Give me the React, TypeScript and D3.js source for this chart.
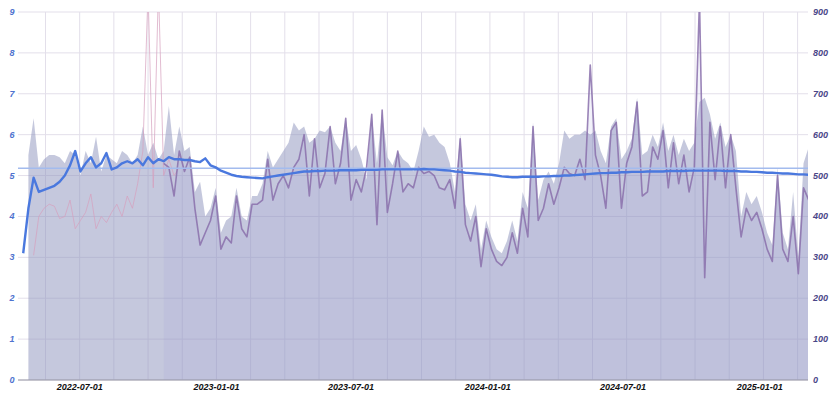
import * as d3 from 'd3';

// weekly observation dates
const dates = [
  '2022-04-16','2022-04-23','2022-04-30','2022-05-07','2022-05-14','2022-05-21','2022-05-28','2022-06-04','2022-06-11','2022-06-18',
  '2022-06-25','2022-07-02','2022-07-09','2022-07-16','2022-07-23','2022-07-30','2022-08-06','2022-08-13','2022-08-20','2022-08-27',
  '2022-09-03','2022-09-10','2022-09-17','2022-09-24','2022-10-01','2022-10-08','2022-10-15','2022-10-22','2022-10-29','2022-11-05',
  '2022-11-12','2022-11-19','2022-11-26','2022-12-03','2022-12-10','2022-12-17','2022-12-24','2022-12-31','2023-01-07','2023-01-14',
  '2023-01-21','2023-01-28','2023-02-04','2023-02-11','2023-02-18','2023-02-25','2023-03-04','2023-03-11','2023-03-18','2023-03-25',
  '2023-04-01','2023-04-08','2023-04-15','2023-04-22','2023-04-29','2023-05-06','2023-05-13','2023-05-20','2023-05-27','2023-06-03',
  '2023-06-10','2023-06-17','2023-06-24','2023-07-01','2023-07-08','2023-07-15','2023-07-22','2023-07-29','2023-08-05','2023-08-12',
  '2023-08-19','2023-08-26','2023-09-02','2023-09-09','2023-09-16','2023-09-23','2023-09-30','2023-10-07','2023-10-14','2023-10-21',
  '2023-10-28','2023-11-04','2023-11-11','2023-11-18','2023-11-25','2023-12-02','2023-12-09','2023-12-16','2023-12-23','2023-12-30',
  '2024-01-06','2024-01-13','2024-01-20','2024-01-27','2024-02-03','2024-02-10','2024-02-17','2024-02-24','2024-03-02','2024-03-09',
  '2024-03-16','2024-03-23','2024-03-30','2024-04-06','2024-04-13','2024-04-20','2024-04-27','2024-05-04','2024-05-11','2024-05-18',
  '2024-05-25','2024-06-01','2024-06-08','2024-06-15','2024-06-22','2024-06-29','2024-07-06','2024-07-13','2024-07-20','2024-07-27',
  '2024-08-03','2024-08-10','2024-08-17','2024-08-24','2024-08-31','2024-09-07','2024-09-14','2024-09-21','2024-09-28','2024-10-05',
  '2024-10-12','2024-10-19','2024-10-26','2024-11-02','2024-11-09','2024-11-16','2024-11-23','2024-11-30','2024-12-07','2024-12-14',
  '2024-12-21','2024-12-28','2025-01-04','2025-01-11','2025-01-18','2025-01-25','2025-02-01','2025-02-08','2025-02-15','2025-02-22',
  '2025-03-01','2025-03-08',
];

// upper band (grey area, left axis)
const upperBand = [
  null, 5.5, 6.4, 5.2, 5.4, 5.5, 5.5, 5.45, 5.3, 5.6,
  5.5, 5.0, 5.6, 5.3, 5.95, 5.1, 5.5, 5.4, 5.3, 5.6,
  5.5, 5.3, 5.5, 6.2, 5.5, 5.8, 5.4, 5.6, 6.7, 5.5,
  6.2, 5.6, 5.7, 4.6, 4.85, 4.0, 4.2, 4.7, 3.6, 3.9,
  4.0, 4.7, 4.0, 3.9, 4.5, 4.5, 4.8, 5.6, 5.2, 5.4,
  5.6, 5.8, 6.3, 6.1, 6.2, 5.8, 5.9, 6.1, 6.06, 6.2,
  5.8, 5.6, 6.4, 5.6, 5.75, 5.4, 4.9, 6.5, 5.3, 6.6,
  5.45, 5.25, 5.6, 5.4, 5.3, 5.1, 5.6, 6.2, 5.95, 6.0,
  5.8, 5.7, 5.3, 4.6, 6.0, 4.3, 3.9, 4.3, 3.2, 3.9,
  3.5, 3.2, 3.1, 3.4, 3.9, 3.4, 4.6, 4.2, 6.3, 4.4,
  4.9, 5.1, 4.8, 5.3, 6.1, 5.9, 6.0, 6.0, 6.1, 6.0,
  6.1, 5.6, 5.3, 6.2, 6.4, 5.4, 5.6, 5.9, 6.9, 5.5,
  5.6, 6.0, 5.7, 6.3, 5.6, 6.0, 5.5, 5.9, 5.6, 5.8,
  6.8, 6.9, 6.5, 5.9, 6.3, 5.7, 6.0, 5.6, 4.0, 4.6,
  4.3, 4.5, 4.1, 3.6, 3.3, 5.2, 3.6, 3.2, 4.6, 3.0,
  5.3, 5.7,
];

// purple series (right axis)
const weeklyCount = [
  null, null, null, null, null, null, null, null, null, null,
  null, null, null, null, null, null, null, null, null, null,
  null, null, null, null, null, null, null, 530, 520, 450,
  560, 510, 545, 420, 330, 360, 390, 450, 320, 350,
  335, 450, 370, 350, 430, 430, 440, 540, 440, 480,
  500, 470, 520, 540, 600, 450, 590, 470, 505, 620,
  480, 530, 640, 440, 490, 460, 520, 650, 380, 660,
  410, 480, 560, 460, 480, 470, 520, 505, 510, 500,
  470, 465, 490, 420, 590, 380, 340, 400, 277, 370,
  320, 290, 280, 300, 360, 310, 420, 350, 620, 390,
  420, 480, 430, 470, 520, 505, 500, 540, 490, 770,
  550, 500, 420, 610, 630, 420, 530, 570, 680, 450,
  460, 570, 540, 610, 470, 580, 480, 550, 460, 520,
  930, 250, 630, 490, 620, 470, 600, 470, 350, 420,
  390, 410, 370, 320, 290, 500, 320, 290, 400, 260,
  470, 440,
];

// pink series (right axis), early period only
const earlyCount = [
  null, null, 305, 400, 420, 430, 425, 395, 400, 440,
  370, 390, 410, 455, 370, 400, 385, 410, 430, 400,
  450, 420, 480, 560, 950, 470, 960, 500, 540, 500,
  520,
];

// running average (blue line, left axis)
const runningAvg = [
  3.1, 4.2, 4.95, 4.6, 4.65, 4.7, 4.75, 4.85, 5.0, 5.25,
  5.6, 5.1, 5.3, 5.45, 5.2, 5.3, 5.55, 5.15, 5.2, 5.3,
  5.35, 5.3, 5.4, 5.25, 5.45, 5.3, 5.4, 5.35, 5.45, 5.4,
  5.4, 5.38, 5.38, 5.35, 5.33, 5.42, 5.25, 5.2, 5.12, 5.07,
  5.02, 4.99, 4.97, 4.96, 4.95, 4.94, 4.93, 4.96, 4.98, 5.0,
  5.02, 5.04, 5.06, 5.08, 5.1, 5.1, 5.11, 5.11, 5.12, 5.12,
  5.12, 5.13, 5.13, 5.13, 5.13, 5.14, 5.14, 5.14, 5.14, 5.15,
  5.15, 5.15, 5.15, 5.15, 5.15, 5.15, 5.15, 5.16, 5.15, 5.15,
  5.14, 5.13, 5.12, 5.1, 5.09, 5.07, 5.06, 5.05, 5.04, 5.03,
  5.02, 5.0, 4.98, 4.97, 4.96, 4.96, 4.97, 4.97, 4.97, 4.97,
  4.98, 4.98, 4.99, 4.99, 5.0, 5.0, 5.01, 5.02, 5.03, 5.04,
  5.05, 5.06, 5.06, 5.07, 5.07, 5.08, 5.08, 5.09, 5.09, 5.09,
  5.1, 5.1, 5.1, 5.1, 5.11, 5.11, 5.11, 5.11, 5.12, 5.12,
  5.12, 5.12, 5.12, 5.12, 5.12, 5.11, 5.11, 5.11, 5.1, 5.1,
  5.09, 5.09, 5.08, 5.07, 5.07, 5.06, 5.05, 5.05, 5.04, 5.03,
  5.03, 5.02,
];

const overallMean = 5.18;
const leftTicks = [0, 1, 2, 3, 4, 5, 6, 7, 8, 9];
const rightTicks = [0, 100, 200, 300, 400, 500, 600, 700, 800, 900];
const dateTicks = ['2022-07-01', '2023-01-01', '2023-07-01', '2024-01-01', '2024-07-01', '2025-01-01'];
const domainDates = ['2022-04-09', '2025-03-07'];

const W = 835;
const H = 396;
const left = 18, right = 808, top = 12, bottom = 380;
const font = '"Liberation Sans", Arial, sans-serif';

export default function App() {
  const parse = d3.utcParse('%Y-%m-%d');
  const xDates = dates.map(d => parse(d));
  const x = d3.scaleUtc().domain(domainDates.map(d => parse(d))).range([left, right]);
  const yL = d3.scaleLinear().domain([0, 9]).range([bottom, top]);
  const yR = d3.scaleLinear().domain([0, 900]).range([bottom, top]);

  const idx = d3.range(dates.length);
  const has = (arr, i) => arr[i] != null;

  const greyArea = d3.area<number>()
    .defined(i => has(upperBand, i))
    .x(i => x(xDates[i]))
    .y0(yL(0))
    .y1(i => yL(upperBand[i]));

  const lavenderArea = d3.area<number>()
    .defined(i => has(weeklyCount, i))
    .x(i => x(xDates[i]))
    .y0(yR(0))
    .y1(i => yR(weeklyCount[i]));

  const purpleLine = d3.line<number>()
    .defined(i => has(weeklyCount, i))
    .x(i => x(xDates[i]))
    .y(i => yR(weeklyCount[i]));

  const pinkLine = d3.line<number>()
    .defined(i => has(earlyCount, i))
    .x(i => x(xDates[i]))
    .y(i => yR(earlyCount[i]));

  const blueLine = d3.line<number>()
    .x(i => x(xDates[i]))
    .y(i => yL(runningAvg[i]));

  // vertical grid: labelled ticks plus three in-between lines
  const majors = dateTicks.map(d => x(parse(d)));
  const step = (majors[1] - majors[0]) / 4;
  const vGrid: number[] = [];
  for (let p = majors[0] - step * 4; p <= right; p += step) {
    if (p > left + 1) vGrid.push(p);
  }

  return (
    <svg width={W} height={H} style={{ position: 'fixed', left: 0, top: 0, background: '#fff' }}>
      <defs>
        <clipPath id="plot">
          <rect x={left} y={top} width={right - left} height={bottom - top} />
        </clipPath>
      </defs>

      {leftTicks.map(t => (
        <line key={'h' + t} x1={left} x2={right} y1={yL(t)} y2={yL(t)} stroke="#e3dfea" strokeWidth={1} />
      ))}
      {vGrid.map((p, k) => (
        <line key={'v' + k} x1={p} x2={p} y1={top} y2={bottom} stroke="#e3dfea" strokeWidth={1} />
      ))}

      <g clipPath="url(#plot)">
        <path d={greyArea(idx) || ''} fill="rgb(140,145,188)" fillOpacity={0.5} />
        <path d={lavenderArea(idx) || ''} fill="rgb(150,150,215)" fillOpacity={0.12} />
        <path d={pinkLine(idx) || ''} fill="none" stroke="rgb(214,160,190)" strokeOpacity={0.7} strokeWidth={1} />
        <path d={purpleLine(idx) || ''} fill="none" stroke="rgb(138,112,172)" strokeOpacity={0.85} strokeWidth={1.6} strokeLinejoin="round" />
        <line x1={left} x2={right} y1={yL(overallMean)} y2={yL(overallMean)} stroke="#a3bbee" strokeWidth={1.5} />
        <path d={blueLine(idx) || ''} fill="none" stroke="#4a78de" strokeWidth={2.4} strokeLinejoin="round" />
      </g>

      <line x1={left} x2={right} y1={bottom} y2={bottom} stroke="#9a9aa6" strokeWidth={1} />

      {leftTicks.map(t => (
        <text key={'l' + t} x={12} y={yL(t) + 3} textAnchor="middle" fontFamily={font} fontSize={9}
          fontStyle="italic" fontWeight={600} fill="#4f73cf">{t}</text>
      ))}
      {rightTicks.map(t => (
        <text key={'r' + t} x={813} y={yR(t) + 3} textAnchor="start" fontFamily={font} fontSize={9}
          fontStyle="italic" fontWeight={600} fill="#4a4688">{t}</text>
      ))}
      {dateTicks.map(d => (
        <text key={d} x={x(parse(d))} y={390} textAnchor="middle" fontFamily={font} fontSize={9}
          fontStyle="italic" fontWeight={700} fill="#111">{d}</text>
      ))}
    </svg>
  );
}
